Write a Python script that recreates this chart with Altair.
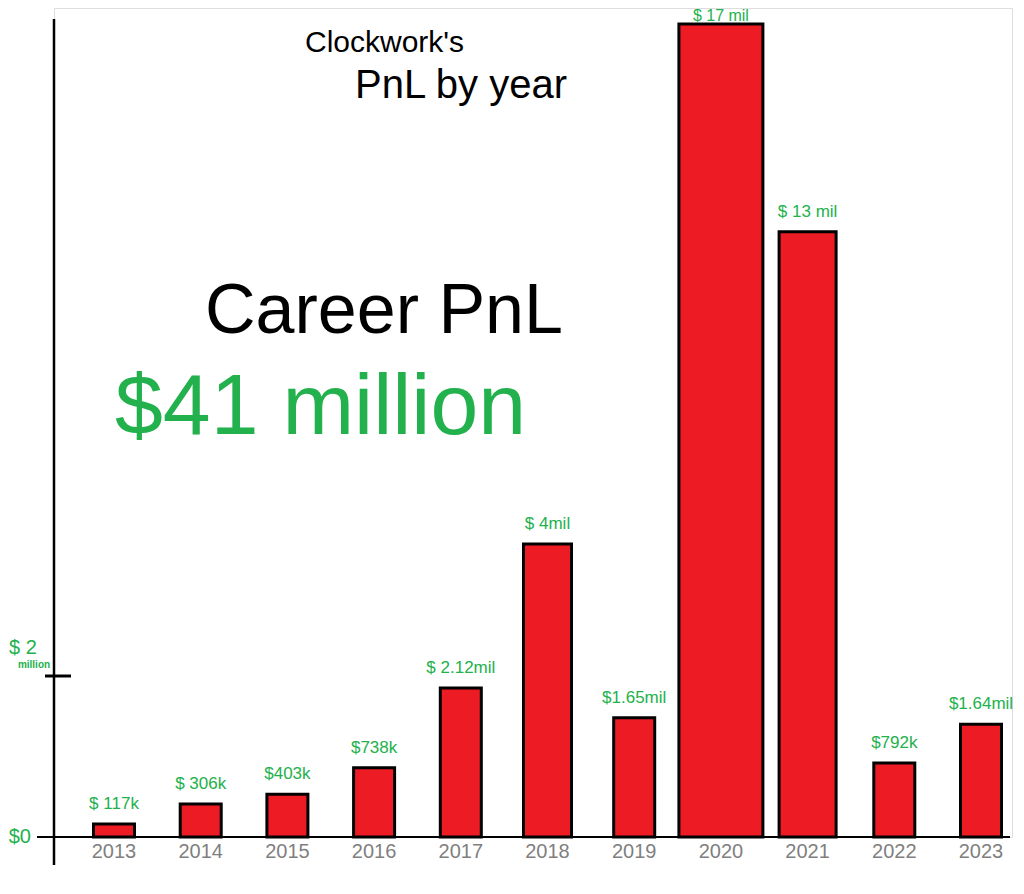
import altair as alt
import pandas as pd

# ---- data ----
years = [2013, 2014, 2015, 2016, 2017, 2018, 2019, 2020, 2021, 2022, 2023]
# bar heights as drawn, in the units of the hand-drawn axis ("$2 million" tick = 2)
drawn_height = [0.16, 0.41, 0.53, 0.86, 1.85, 3.64, 1.48, 10.10, 7.52, 0.92, 1.40]
value_labels = ["$ 117k", "$ 306k", "$403k", "$738k", "$ 2.12mil", "$ 4mil",
                "$1.65mil", "$ 17 mil", "$ 13 mil", "$792k", "$1.64mil"]
axis_tick_value = 2
axis_tick_label = "$ 2"
axis_tick_unit = "million"
axis_zero_label = "$0"
title_line1 = "Clockwork's"
title_line2 = "PnL by year"
career_label = "Career PnL"
career_value = "$41 million"

RED = "#ed1c24"
GREEN = "#22b14c"
GRAY = "#7f7f7f"
FONT = "Liberation Sans"

df = pd.DataFrame({"year": years, "h": drawn_height, "label": value_labels})

W, H = 958, 829
PX_PER_UNIT = 80.5

xs = alt.X("year:O", scale=alt.Scale(type="band", domain=years, range=[16.65, 970.35],
                                     paddingInner=0, paddingOuter=0), axis=None)
ys = alt.Y("h:Q", scale=alt.Scale(domain=[0, H / PX_PER_UNIT], nice=False, zero=True), axis=None)

base = alt.Chart(df)

bar_width = (alt.when(alt.datum.year == 2020).then(alt.value(84))
             .when(alt.datum.year == 2021).then(alt.value(57))
             .when(alt.datum.year == 2018).then(alt.value(48))
             .otherwise(alt.value(41)))

bars = base.mark_bar(color=RED, stroke="black", strokeWidth=3).encode(
    x=xs, y=ys, size=bar_width)

labels = base.transform_filter(alt.datum.year != 2020).mark_text(
    color=GREEN, font=FONT, fontSize=17, baseline="bottom", dy=-11).encode(
    x=xs, y=ys, text="label:N")
label_top = base.transform_filter(alt.datum.year == 2020).mark_text(
    color=GREEN, font=FONT, fontSize=16, baseline="alphabetic", dy=-3).encode(
    x=xs, y=ys, text="label:N")

year_labels = base.mark_text(color=GRAY, font=FONT, fontSize=20, baseline="middle", dy=15).encode(
    x=xs, y=alt.datum(0), text="year:N")

one = alt.Chart(pd.DataFrame({"k": [0]}))

yaxis_line = one.mark_rule(color="black", strokeWidth=2.5).encode(
    x=alt.value(0), y=alt.value(11), y2=alt.value(857))
baseline = one.mark_rule(color="black", strokeWidth=2).encode(
    x=alt.value(-17), x2=alt.value(956), y=alt.datum(0))
tick = one.mark_rule(color="black", strokeWidth=3).encode(
    x=alt.value(-9), x2=alt.value(17), y=alt.datum(axis_tick_value))

tick_lab = one.mark_text(color=GREEN, font=FONT, fontSize=20, align="left", baseline="middle",
                         dy=-28).encode(x=alt.value(-45), y=alt.datum(axis_tick_value),
                                        text=alt.value(axis_tick_label))
tick_unit = one.mark_text(color=GREEN, font=FONT, fontSize=10, fontWeight="bold", align="center",
                          baseline="middle", dy=-11).encode(x=alt.value(-20), y=alt.datum(axis_tick_value),
                                                             text=alt.value(axis_tick_unit))
zero_lab = one.mark_text(color=GREEN, font=FONT, fontSize=20, align="right", baseline="middle").encode(
    x=alt.value(-23), y=alt.datum(0), text=alt.value(axis_zero_label))

t1 = one.mark_text(color="black", font=FONT, fontSize=30, align="left", baseline="alphabetic").encode(
    x=alt.value(251), y=alt.value(44), text=alt.value(title_line1))
t2 = one.mark_text(color="black", font=FONT, fontSize=40, align="left", baseline="alphabetic").encode(
    x=alt.value(301), y=alt.value(90), text=alt.value(title_line2))
c1 = one.mark_text(color="black", font=FONT, fontSize=70, align="left", baseline="alphabetic").encode(
    x=alt.value(151), y=alt.value(325), text=alt.value(career_label))
c2 = one.mark_text(color=GREEN, font=FONT, fontSize=86, align="left", baseline="alphabetic").encode(
    x=alt.value(61), y=alt.value(426), text=alt.value(career_value))

chart = alt.layer(
    bars, labels, label_top, year_labels, yaxis_line, baseline, tick, tick_lab, tick_unit, zero_lab,
    t1, t2, c1, c2
).properties(
    width=W, height=H,
    autosize=alt.AutoSizeParams(type="none"),
    padding={"left": 46, "top": 0, "right": 4, "bottom": 40},
).configure_view(stroke=None).configure(background="white")

chart.save("out.html", embed_options={"renderer": "svg", "actions": False})
